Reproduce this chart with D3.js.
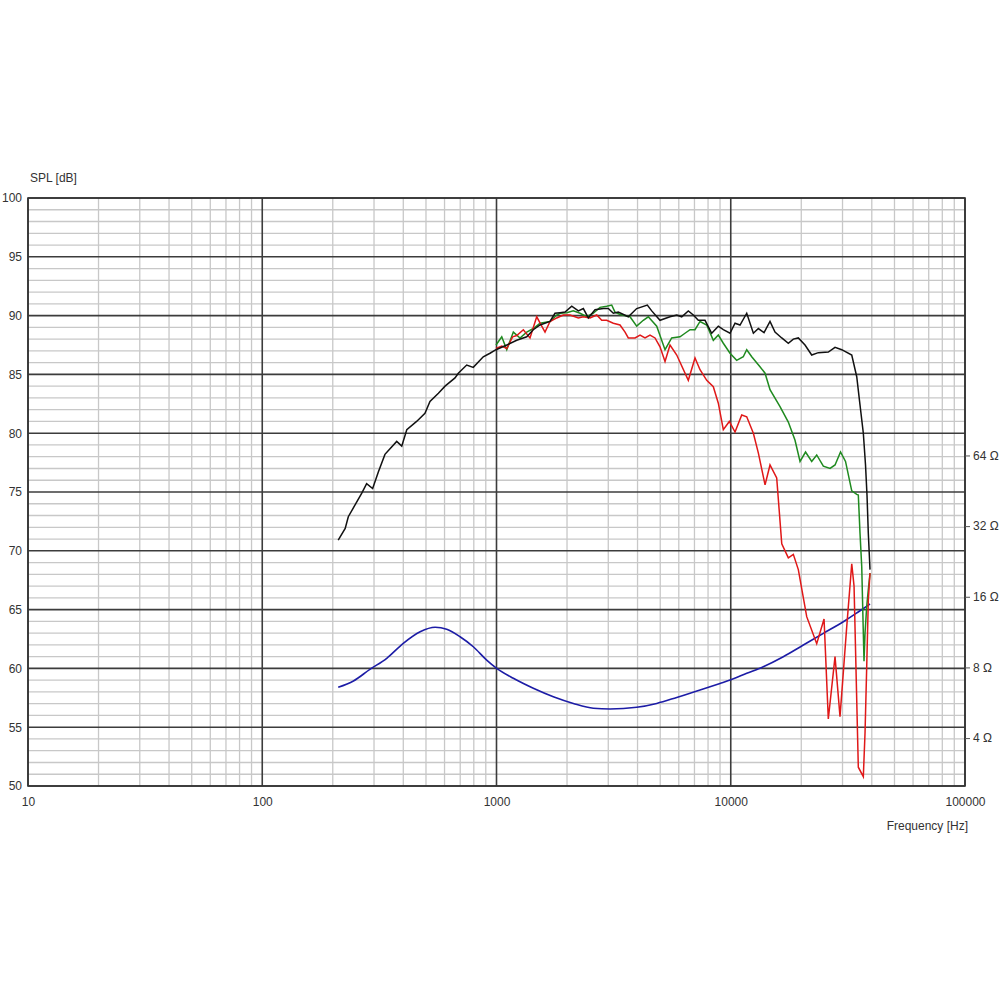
<!DOCTYPE html>
<html><head><meta charset="utf-8">
<script src="https://cdn.jsdelivr.net/npm/d3@7"></script>
<style>body{margin:0;background:#fff} text{font-family:"Liberation Sans",Arial,sans-serif}</style>
</head><body><svg id="c" width="1000" height="1000"></svg>
<script>
// ---- data ----
const blackFreq=[211,226,233,249,266,279,296,313,334,375,394,414,456,495,520,565,603,665,687,746,796,878,938,995,1106,1220,1346,1436,1534,1692,1777,1867,1961,2095,2236,2348,2466,2634,2858,3001,3153,3311,3653,3967,4404,4599,4989,5504,5881,6175,6589,6922,7270,7765,8292,8850,9295,9929,10430,10955,11700,12490,13120,13870,14710,15450,16510,17610,18500,19430,20750,22160,23650,26090,27870,29770,32850,34500,35630,36810,37610,38170,38660,39310];
const blackSPL=[70.9,71.9,72.9,73.9,74.9,75.7,75.3,76.7,78.2,79.3,78.9,80.3,81.0,81.7,82.7,83.4,84.0,84.7,85.1,85.8,85.6,86.5,86.8,87.1,87.5,87.9,88.2,88.8,89.2,89.5,90.2,90.25,90.3,90.8,90.4,90.6,89.8,90.5,90.6,90.6,90.2,90.3,89.9,90.6,90.9,90.4,89.6,89.9,90.05,89.9,90.4,90.05,89.6,89.6,88.5,89.1,88.8,88.5,89.35,89.2,90.2,88.5,88.9,88.55,89.5,88.6,88.1,87.65,88.0,88.1,87.5,86.65,86.85,86.9,87.3,87.1,86.65,84.8,82.4,80.0,77.3,74.7,71.5,68.4];

const greenFreq=[995,1053,1106,1180,1260,1346,1436,1534,1692,1807,1867,1994,2128,2273,2428,2591,2766,2954,3103,3205,3367,3715,3967,4233,4446,4830,5241,5596,6073,6378,6702,7038,7393,7897,8425,8850,9295,9929,10600,11310,11700,12290,13330,14010,14710,16230,17610,18810,19760,20860,22160,23280,24850,26540,27870,29420,30900,32850,34500,35040,35630,36240,36810,37060,37430,38050,38660,39310];
const greenSPL=[87.5,88.2,87.1,88.6,88.1,88.6,88.9,89.35,89.5,90.05,90.2,90.25,90.4,90.2,89.9,90.2,90.7,90.8,90.9,90.3,90.1,89.9,89.1,89.6,89.9,89.1,87.1,88.1,88.2,88.5,88.8,88.8,89.5,89.2,87.9,88.35,87.65,86.8,86.2,86.5,87.1,86.5,85.65,85.1,83.7,82.25,80.95,79.4,77.6,78.4,77.6,78.15,77.2,77.0,77.3,78.4,77.6,75.1,74.8,74.75,71.5,68.65,63.0,60.6,63.0,65.25,66.7,68.1];

const redFreq=[995,1053,1106,1173,1220,1302,1390,1485,1560,1611,1692,1807,1929,2060,2236,2348,2507,2678,2813,2954,3153,3367,3538,3653,3903,4100,4305,4522,4750,4989,5241,5504,5881,6589,7038,7393,7897,8425,8850,9295,9860,10430,11140,11700,12490,13120,14010,14710,15710,16510,17610,18500,19430,21100,23280,25020,26090,27870,29270,31270,32850,33600,35040,36810,37430,38050,38660,39310];
const redSPL=[87.2,87.4,87.2,88.2,88.3,88.8,88.1,89.9,89.1,88.6,89.5,89.8,90.05,90.05,89.8,89.9,89.8,90.05,89.6,89.6,89.35,89.2,88.6,88.1,88.1,88.35,88.1,88.35,88.1,87.35,86.1,87.5,86.65,84.5,86.4,85.4,84.5,83.95,82.55,80.3,81.0,80.1,81.55,81.4,80.0,78.3,75.6,77.3,76.2,70.6,69.4,69.7,68.4,64.4,62.1,64.2,55.7,61.0,55.9,63.55,68.9,67.0,51.6,50.8,54.5,60.1,65.8,68.1];

const impFreq=[211,245,288,340,400,472,547,613,699,796,908,1002,1180,1436,1748,2128,2591,3052,3967,4830,5881,7393,8999,9929,11700,13770,16760,20410,24850,30240,35630,39310];
const impOhm=[6.58,7.00,7.85,8.75,10.13,11.35,11.86,11.63,10.81,9.80,8.60,7.93,7.19,6.52,6.00,5.62,5.36,5.32,5.41,5.62,5.96,6.41,6.84,7.07,7.55,8.06,8.89,9.97,11.18,12.52,13.95,14.90];

const freqTicks=[10,100,1000,10000,100000];
const splTicks=[50,55,60,65,70,75,80,85,90,95,100];
const ohmTicks=[4,8,16,32,64];

// ---- chart ----
const svg=d3.select("#c");
const L=28,R=965,T=198,B=786;
const x=d3.scaleLog().domain([10,100000]).range([L,R]);
const y=d3.scaleLinear().domain([50,100]).range([B,T]);
const z=d3.scaleLog().domain([2.5,800]).range([B,T]);

const grid=svg.append("g");
grid.selectAll(".mv").data(x.ticks().filter(v=>!freqTicks.includes(v))).join("line")
  .attr("x1",d=>x(d)).attr("x2",d=>x(d)).attr("y1",T).attr("y2",B)
  .attr("stroke","#c8c8c8").attr("stroke-width",1.3);
grid.selectAll(".mh").data(d3.range(51,100).filter(v=>v%5!==0)).join("line")
  .attr("x1",L).attr("x2",R).attr("y1",d=>y(d)).attr("y2",d=>y(d))
  .attr("stroke","#c8c8c8").attr("stroke-width",1.3);
grid.selectAll(".Mv").data(freqTicks).join("line")
  .attr("x1",d=>x(d)).attr("x2",d=>x(d)).attr("y1",T).attr("y2",B)
  .attr("stroke","#3c3c3c").attr("stroke-width",1.6);
grid.selectAll(".Mh").data(splTicks).join("line")
  .attr("x1",L).attr("x2",R).attr("y1",d=>y(d)).attr("y2",d=>y(d))
  .attr("stroke","#3c3c3c").attr("stroke-width",1.6);
svg.append("rect").attr("x",L).attr("y",T).attr("width",R-L).attr("height",B-T)
  .attr("fill","none").attr("stroke","#333").attr("stroke-width",1.6);

const styleAxis=g=>{g.select(".domain").remove();g.selectAll("text").attr("fill","#333").style("font-size","12px").style("font-family","'Liberation Sans',Arial,sans-serif");};
svg.append("g").attr("transform",`translate(${L},0)`)
  .call(d3.axisLeft(y).tickValues(splTicks).tickSize(0).tickPadding(6)).call(styleAxis);
svg.append("g").attr("transform",`translate(0,${B})`)
  .call(d3.axisBottom(x).tickValues(freqTicks).tickFormat(d3.format("d")).tickSize(0).tickPadding(11)).call(styleAxis);
svg.append("g").attr("transform",`translate(${R},0)`)
  .call(d3.axisRight(z).tickValues(ohmTicks).tickFormat(d=>d+" Ω").tickSize(5).tickPadding(3)).call(styleAxis)
  .selectAll("line").attr("stroke","#555");

svg.append("text").attr("x",30).attr("y",182).attr("fill","#333").style("font-size","12px").text("SPL [dB]");
svg.append("text").attr("x",968).attr("y",830).attr("text-anchor","end").attr("fill","#333").style("font-size","12px").text("Frequency [Hz]");

const line=d3.line().x(d=>x(d[0])).y(d=>y(d[1]));
const zline=d3.line().x(d=>x(d[0])).y(d=>z(d[1])).curve(d3.curveMonotoneX);
const zip=(a,b)=>a.map((v,i)=>[v,b[i]]);
svg.append("path").datum(zip(impFreq,impOhm)).attr("d",zline).attr("fill","none").attr("stroke","#1c1ca6").attr("stroke-width",1.6);
svg.append("path").datum(zip(greenFreq,greenSPL)).attr("d",line).attr("fill","none").attr("stroke","#1f8a1f").attr("stroke-width",1.5);
svg.append("path").datum(zip(redFreq,redSPL)).attr("d",line).attr("fill","none").attr("stroke","#e01818").attr("stroke-width",1.5);
svg.append("path").datum(zip(blackFreq,blackSPL)).attr("d",line).attr("fill","none").attr("stroke","#111").attr("stroke-width",1.5);
</script></body></html>
